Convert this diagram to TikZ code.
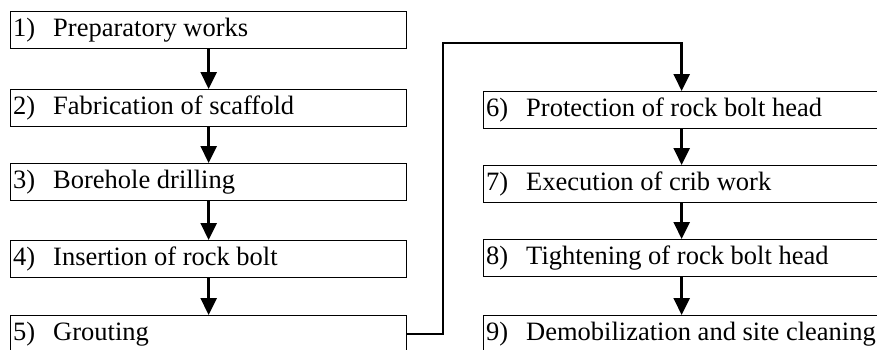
\documentclass[tikz,border=0pt]{standalone}
\usepackage{fontspec}
\setmainfont{Liberation Serif}
\usetikzlibrary{arrows.meta}

\tikzset{
  stepbox/.style={draw, line width=1.3pt, rectangle, anchor=north west,
    inner xsep=2.5pt, inner ysep=0pt, minimum width=396pt,
    minimum height=37pt, text height=20pt, text depth=7pt,
    font=\fontsize{26.5}{30}\selectfont},
  flow/.style={line width=2.6pt, -{Triangle[length=17pt,width=16pt]}}
}
% step number followed by its description, left aligned in a fixed-width box
\newcommand{\stepno}[2]{\makebox[391pt][l]{#1\hspace{0.68em}#2}}

\begin{document}
\begin{tikzpicture}[x=1pt, y=-1pt]
  \path[use as bounding box, clip] (0,0) rectangle (877,349);
  \fill[white] (0,0) rectangle (877,349);

  % left column
  \node[stepbox] (b1) at (10,11)  {\stepno{1)}{Preparatory works}};
  \node[stepbox] (b2) at (10,89)  {\stepno{2)}{Fabrication of scaffold}};
  \node[stepbox] (b3) at (10,163) {\stepno{3)}{Borehole drilling}};
  \node[stepbox] (b4) at (10,240) {\stepno{4)}{Insertion of rock bolt}};
  \node[stepbox] (b5) at (10,315) {\stepno{5)}{Grouting}};

  % right column
  \node[stepbox] (b6) at (483,91)  {\stepno{6)}{Protection of rock bolt head}};
  \node[stepbox] (b7) at (483,165) {\stepno{7)}{Execution of crib work}};
  \node[stepbox] (b8) at (483,239) {\stepno{8)}{Tightening of rock bolt head}};
  \node[stepbox] (b9) at (483,315) {\stepno{9)}{Demobilization and site cleaning}};

  % sequence arrows
  \draw[flow] (b1.south) -- (b2.north);
  \draw[flow] (b2.south) -- (b3.north);
  \draw[flow] (b3.south) -- (b4.north);
  \draw[flow] (b4.south) -- (b5.north);
  \draw[flow] (b6.south) -- (b7.north);
  \draw[flow] (b7.south) -- (b8.north);
  \draw[flow] (b8.south) -- (b9.north);

  % link from step 5 over to step 6
  \coordinate (riser) at (443,43);
  \draw[flow] (b5.east) -| (riser) -| (b6.north);
\end{tikzpicture}
\end{document}
